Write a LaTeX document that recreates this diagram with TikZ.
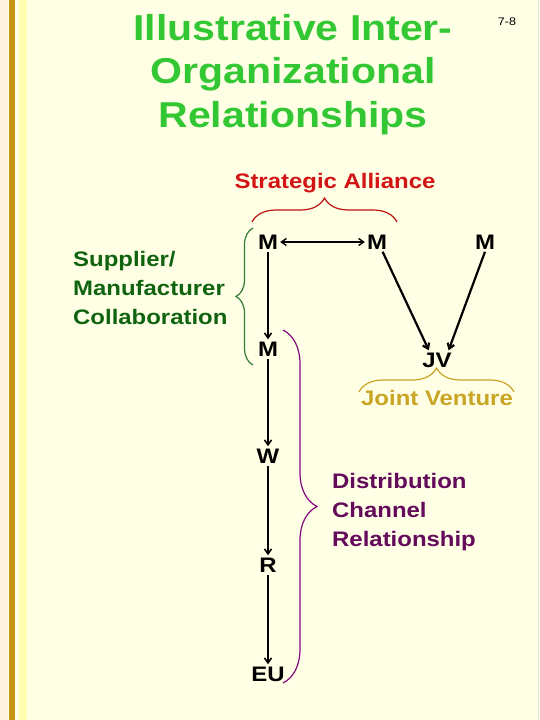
\documentclass[tikz,border=0pt]{standalone}
\usepackage{fontspec}
\setmainfont{Liberation Sans}[FakeStretch=1.14]
\usetikzlibrary{arrows.meta,decorations.pathreplacing}
\definecolor{slidebg}{RGB}{255,255,230}
\definecolor{bargold}{RGB}{198,150,22}
\definecolor{barpale}{RGB}{255,255,175}
\definecolor{titlegreen}{RGB}{51,200,51}
\definecolor{alliancered}{RGB}{210,20,20}
\definecolor{collabgreen}{RGB}{16,100,16}
\definecolor{jvgold}{RGB}{200,165,35}
\definecolor{dcpurple}{RGB}{100,10,90}
\begin{document}
\begin{tikzpicture}[x=1pt,y=-1pt, >={Straight Barb[length=5pt,width=7pt]},
  firm/.style={font=\fontsize{21}{25}\selectfont\bfseries,text height=15pt,text depth=0pt,inner sep=2pt},
  lbl/.style={font=\fontsize{21}{29}\selectfont\bfseries,inner sep=0pt},
  link/.style={->,line width=1.6pt},
  brc/.style={decorate,decoration={brace,amplitude=#1},line width=1.2pt}]
\useasboundingbox (0,0) rectangle (540,720);
% slide background
\fill[slidebg] (0,0) rectangle (540,720);
\fill[yellow!8!orange!10] (0,0) rectangle (8,720);
\fill[bargold] (9,0) rectangle (15,720);
\fill[barpale] (19,0) rectangle (27,720);
\draw[black!12] (538,0) -- (538,720);
% title
\node[font=\fontsize{36}{43.5}\selectfont\bfseries,text=titlegreen,align=center,inner sep=0pt,anchor=north] (title) at (293,14) {Illustrative Inter-\\Organizational\\Relationships};
\node[font=\fontsize{11}{13}\selectfont,anchor=base] (pg) at (507,25) {7-8};
% firms
\node[firm] (mfrA) at (268,242) {M};
\node[firm] (mfrB) at (377,242) {M};
\node[firm] (mfrC) at (485,242) {M};
\node[firm] (mfrD) at (268,349) {M};
\node[firm] (jv) at (437,360) {JV};
\node[firm] (whs) at (268,456) {W};
\node[firm] (ret) at (268,565) {R};
\node[firm] (eu) at (268,674) {EU};
\draw[<->,line width=1.4pt] (mfrA) -- (mfrB);
\draw[link] (mfrA) -- (mfrD); \draw[link] (mfrD) -- (whs); \draw[link] (whs) -- (ret); \draw[link] (ret) -- (eu);
\draw[link,line width=2.2pt] (mfrB.-60) -- (jv.130); \draw[link,line width=2.2pt] (mfrC.south) -- (jv.40);
% braces and labels
\draw[brc=24,alliancered!90!black] (252,222) -- (397,222);
\node[lbl,text=alliancered,anchor=base] (sa) at (335,188) {Strategic Alliance};
\draw[brc=17,collabgreen!85!white] (253,365) -- (253,228);
\node[lbl,text=collabgreen,anchor=north west,align=left] (smc) at (73,251) {Supplier/\\Manufacturer\\Collaboration};
\draw[brc=24,jvgold] (359,392) -- (514,392);
\node[lbl,text=jvgold,anchor=base] (jvl) at (437,405) {Joint Venture};
\draw[brc=34,dcpurple!80!magenta] (283,330) -- (283,683);
\node[lbl,text=dcpurple,anchor=north west,align=left] (dcr) at (332,473) {Distribution\\Channel\\Relationship};
\end{tikzpicture}
\end{document}
